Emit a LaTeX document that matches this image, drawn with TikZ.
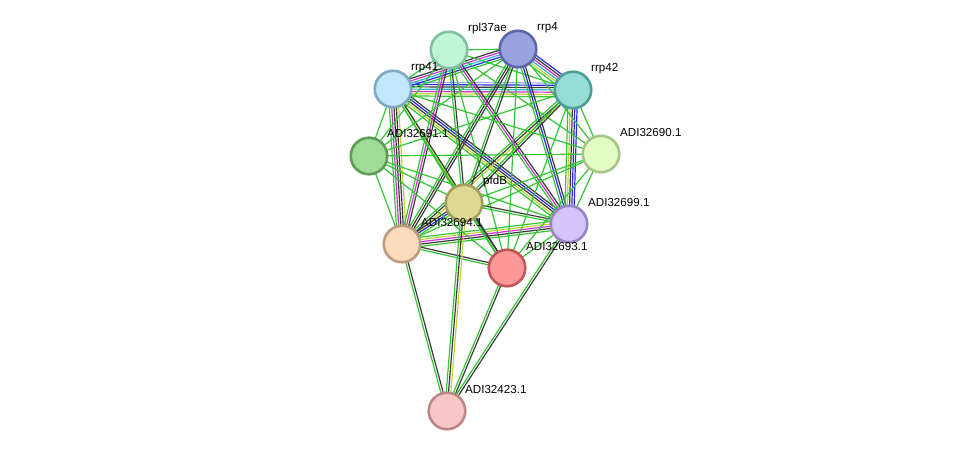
\documentclass[tikz,border=0pt]{standalone}
\usepackage{fontspec}
\setmainfont{Liberation Sans}
\usetikzlibrary{calc,backgrounds}
\definecolor{sgreen}{HTML}{33C633}
\definecolor{sblack}{HTML}{3A3A3A}
\definecolor{sblue}{HTML}{2828F0}
\definecolor{smag}{HTML}{D42ED4}
\definecolor{scyan}{HTML}{2EB8D4}
\definecolor{syellow}{HTML}{C0D42E}
\definecolor{slav}{HTML}{A4A4F0}
\newcommand{\bundle}[3]{%
  \foreach \c [count=\n] in {#3} {\xdef\bundlen{\n}}%
  \foreach \c [count=\i] in {#3} {%
    \pgfmathsetmacro{\off}{(\i-(\bundlen+1)/2)*2.3}%
    \draw[link,\c] ($(#1)!\off pt!90:(#2)$) -- ($(#2)!\off pt!-90:(#1)$);
  }}
\begin{document}
\begin{tikzpicture}[x=1pt,y=-1pt,
  link/.style={line width=1.2pt},
  prot/.style={circle,draw,line width=2.6pt,minimum size=36.5pt,inner sep=0pt},
  lbl/.style={anchor=west,font=\fontsize{11.6}{13}\selectfont,inner sep=1pt}]
   \useasboundingbox (0,0) rectangle (975,457);
   \node (rpl37ae) at (449,50) [prot,draw={rgb,255:red,128;green,192;blue,160},fill={rgb,255:red,192;green,245;blue,216}] {};
   \node (rrp4) at (518,49) [prot,draw={rgb,255:red,90;green,103;blue,168},fill={rgb,255:red,153;green,163;blue,221}] {};
   \node (rrp41) at (393,89) [prot,draw={rgb,255:red,127;green,169;blue,195},fill={rgb,255:red,194;green,230;blue,250}] {};
   \node (rrp42) at (573,90) [prot,draw={rgb,255:red,76;green,158;blue,150},fill={rgb,255:red,149;green,221;blue,213}] {};
   \node (p691) at (369,156) [prot,draw={rgb,255:red,94;green,156;blue,87},fill={rgb,255:red,160;green,220;blue,150}] {};
   \node (p690) at (601,154) [prot,draw={rgb,255:red,168;green,196;blue,138},fill={rgb,255:red,226;green,253;blue,196}] {};
   \node (pfdB) at (464,203) [prot,draw={rgb,255:red,164;green,160;blue,92},fill={rgb,255:red,220;green,218;blue,148}] {};
   \node (p699) at (569,224) [prot,draw={rgb,255:red,150;green,132;blue,196},fill={rgb,255:red,211;green,196;blue,250}] {};
   \node (p694) at (402,244) [prot,draw={rgb,255:red,188;green,156;blue,124},fill={rgb,255:red,253;green,220;blue,190}] {};
   \node (p693) at (507,268) [prot,draw={rgb,255:red,192;green,88;blue,88},fill={rgb,255:red,253;green,152;blue,152}] {};
   \node (p423) at (447,411) [prot,draw={rgb,255:red,189;green,135;blue,135},fill={rgb,255:red,247;green,198;blue,198}] {};
   \node (rpl37aet) at (467,29) [lbl] {rpl37ae};
   \node (rrp4t) at (536,28) [lbl] {rrp4};
   \node (rrp41t) at (410,68) [lbl] {rrp41};
   \node (rrp42t) at (590,69) [lbl] {rrp42};
   \node (p691t) at (386,134) [lbl] {ADI32691.1};
   \node (p690t) at (619,133) [lbl] {ADI32690.1};
   \node (pfdBt) at (482,182) [lbl] {pfdB};
   \node (p699t) at (587,203) [lbl] {ADI32699.1};
   \node (p694t) at (420,223) [lbl] {ADI32694.1};
   \node (p693t) at (525,247) [lbl] {ADI32693.1};
   \node (p423t) at (464,390) [lbl] {ADI32423.1};
   \begin{scope}[on background layer]
   \bundle{rrp41}{rrp42}{sgreen,syellow,smag,scyan,sblack,sblue,slav}
   \bundle{rrp41}{rrp4}{sgreen,sblue,scyan,smag,sblack}
   \bundle{rrp4}{rrp42}{sgreen,syellow,scyan,smag,sblack,sblue}
   \bundle{rpl37ae}{rrp4}{sgreen}
   \bundle{rpl37ae}{rrp41}{sgreen}
   \bundle{rpl37ae}{rrp42}{sgreen}
   \bundle{rrp41}{p699}{sgreen,syellow,sblack,sblue,sblack}
   \bundle{rrp4}{p699}{sgreen,sblue,sblack}
   \bundle{rrp42}{p699}{sgreen,syellow,sblack,sblue,sblue}
   \bundle{rrp41}{p694}{sgreen,smag,sblack,sblack,syellow}
   \bundle{rrp4}{p694}{sgreen,sblack,sblack}
   \bundle{rrp42}{p694}{sgreen,sblack,syellow}
   \bundle{rpl37ae}{p699}{sgreen,smag,sblack}
   \bundle{rpl37ae}{p694}{sgreen,smag,sblack}
   \bundle{rpl37ae}{pfdB}{sgreen,sblack}
   \bundle{rpl37ae}{p693}{sgreen}
   \bundle{rpl37ae}{p690}{sgreen}
   \bundle{rpl37ae}{p691}{sgreen}
   \bundle{p694}{p699}{sgreen,sblack,smag,syellow,sgreen}
   \bundle{p694}{p693}{sgreen,sblack}
   \bundle{p694}{pfdB}{sgreen,sblue,sblack}
   \bundle{pfdB}{p699}{sgreen,sblack}
   \bundle{pfdB}{p693}{sgreen,sblack}
   \bundle{p699}{p693}{sgreen}
   \bundle{p694}{p423}{sgreen,sblack}
   \bundle{pfdB}{p423}{sgreen,sblack,syellow}
   \bundle{p693}{p423}{sgreen,sblack}
   \bundle{p699}{p423}{sgreen,sblack}
   \bundle{rrp41}{pfdB}{sgreen,syellow}
   \bundle{rrp4}{pfdB}{sgreen,sblack}
   \bundle{rrp42}{pfdB}{sgreen,sblack}
   \bundle{rrp41}{p693}{sgreen,sblack}
   \bundle{rrp4}{p693}{sgreen}
   \bundle{rrp42}{p693}{sgreen}
   \foreach \t in {rrp41,rrp4,rrp42,p690,pfdB,p699,p694,p693}
     {\bundle{p691}{\t}{sgreen}}
   \foreach \t in {rrp41,rrp4,rrp42,pfdB,p699,p694,p693}
     {\bundle{p690}{\t}{sgreen}}
   \end{scope}
\end{tikzpicture}
\end{document}
